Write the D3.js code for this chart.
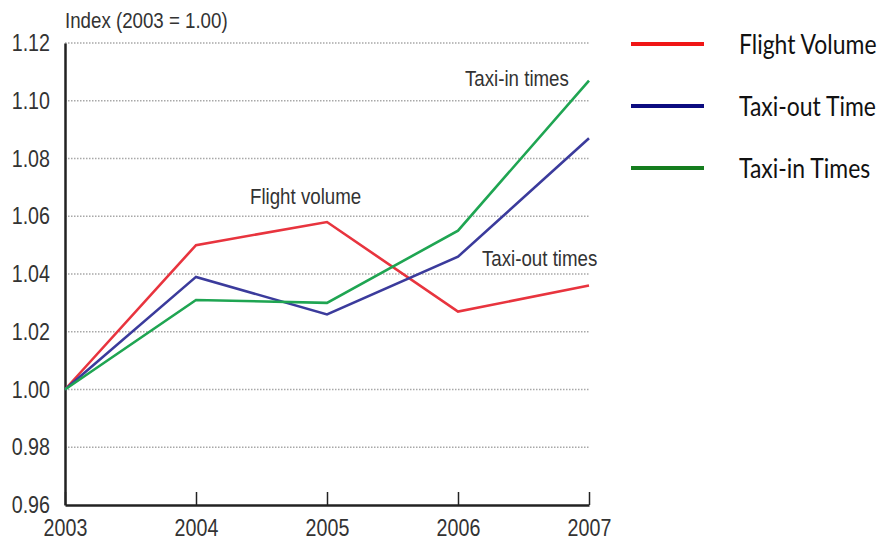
<!DOCTYPE html>
<html>
<head>
<meta charset="utf-8">
<script src="https://cdn.jsdelivr.net/npm/d3@7"></script>
<style>
  body { margin: 0; background: #fff; }
  svg text { font-family: "Liberation Sans", Arial, sans-serif; }
</style>
</head>
<body>
<div id="chart"></div>
<script>
// data
var years = [2003, 2004, 2005, 2006, 2007];
var flightVolume = [1.000, 1.050, 1.058, 1.027, 1.036];
var taxiOut = [1.000, 1.039, 1.026, 1.046, 1.087];
var taxiIn = [1.000, 1.031, 1.030, 1.055, 1.107];
var yTicks = [0.96, 0.98, 1.00, 1.02, 1.04, 1.06, 1.08, 1.10, 1.12];
var seriesNames = ["Flight Volume", "Taxi-out Time", "Taxi-in Times"];
var lineColors = ["#e8343e", "#3b3b9c", "#1fa552"];
var legendColors = ["#f01616", "#0c0c80", "#157d1e"];

var width = 882, height = 542;
var margin = {top: 43, right: 293, bottom: 37, left: 65};

var svg = d3.select("#chart")
  .append("svg")
  .attr("width", width)
  .attr("height", height);

var g = svg.append("g")
  .attr("transform", "translate(" + margin.left + "," + margin.top + ")");

var w = width - margin.left - margin.right;
var h = height - margin.top - margin.bottom;

var x = d3.scaleLinear().domain([2003, 2007]).range([0, w]);
var y = d3.scaleLinear().domain([0.96, 1.12]).range([h, 0]);

// the original font is a narrow grotesque, so squeeze the text sideways
var squeeze = 0.82;

// gridlines (dotted)
g.selectAll(".grid")
  .data(yTicks.slice(1))
  .enter().append("line")
  .attr("x1", 0)
  .attr("x2", w)
  .attr("y1", function(d) { return y(d); })
  .attr("y2", function(d) { return y(d); })
  .attr("stroke", "#a8a8a8")
  .attr("stroke-width", 1.3)
  .attr("stroke-dasharray", "1.5,1.5");

// y axis
var yAxis = g.append("g")
  .call(d3.axisLeft(y).tickValues(yTicks).tickSize(0).tickFormat(d3.format(".2f")));
yAxis.select(".domain").attr("stroke", "#222").attr("stroke-width", 2.5);
yAxis.selectAll("text")
  .attr("font-size", 24)
  .attr("fill", "#333")
  .attr("x", -15 / squeeze)
  .attr("transform", "scale(" + squeeze + ",1)");

// x axis, ticks point up
var xAxis = g.append("g")
  .attr("transform", "translate(0," + h + ")")
  .call(d3.axisBottom(x).tickValues(years).tickFormat(d3.format("d")).tickSizeInner(-13).tickSizeOuter(0).tickPadding(12));
xAxis.select(".domain").attr("stroke", "#222").attr("stroke-width", 2.5);
xAxis.selectAll(".tick line").attr("stroke", "#222").attr("stroke-width", 1.5);
xAxis.selectAll("text")
  .attr("font-size", 24)
  .attr("fill", "#333")
  .attr("dy", "0.8em")
  .attr("transform", "scale(" + squeeze + ",1)");

// lines
var line = d3.line()
  .x(function(d, i) { return x(years[i]); })
  .y(function(d) { return y(d); });

[flightVolume, taxiOut, taxiIn].forEach(function(s, i) {
  g.append("path")
    .datum(s)
    .attr("d", line)
    .attr("fill", "none")
    .attr("stroke", lineColors[i])
    .attr("stroke-width", 2.6);
});

// axis title and annotations on the chart
var notes = [
  {t: "Index (2003 = 1.00)", x: 65, y: 28},
  {t: "Flight volume", x: 250, y: 204},
  {t: "Taxi-in times", x: 465, y: 86},
  {t: "Taxi-out times", x: 482, y: 266}
];
svg.selectAll(".note")
  .data(notes)
  .enter().append("text")
  .attr("transform", function(d) { return "translate(" + d.x + "," + d.y + ") scale(0.85,1)"; })
  .attr("font-size", 22)
  .attr("fill", "#333")
  .text(function(d) { return d.t; });

// legend
var leg = svg.selectAll(".leg")
  .data(seriesNames)
  .enter().append("g")
  .attr("transform", function(d, i) { return "translate(631," + (44 + i * 62) + ")"; });

leg.append("line")
  .attr("x1", 0).attr("x2", 73)
  .attr("stroke", function(d, i) { return legendColors[i]; })
  .attr("stroke-width", 4);

leg.append("text")
  .attr("transform", "translate(108,10) scale(0.85,1)")
  .attr("font-size", 27)
  .attr("fill", "#111")
  .style("font-family", "Lato, 'Open Sans', sans-serif")
  .text(function(d) { return d; });
</script>
</body>
</html>
